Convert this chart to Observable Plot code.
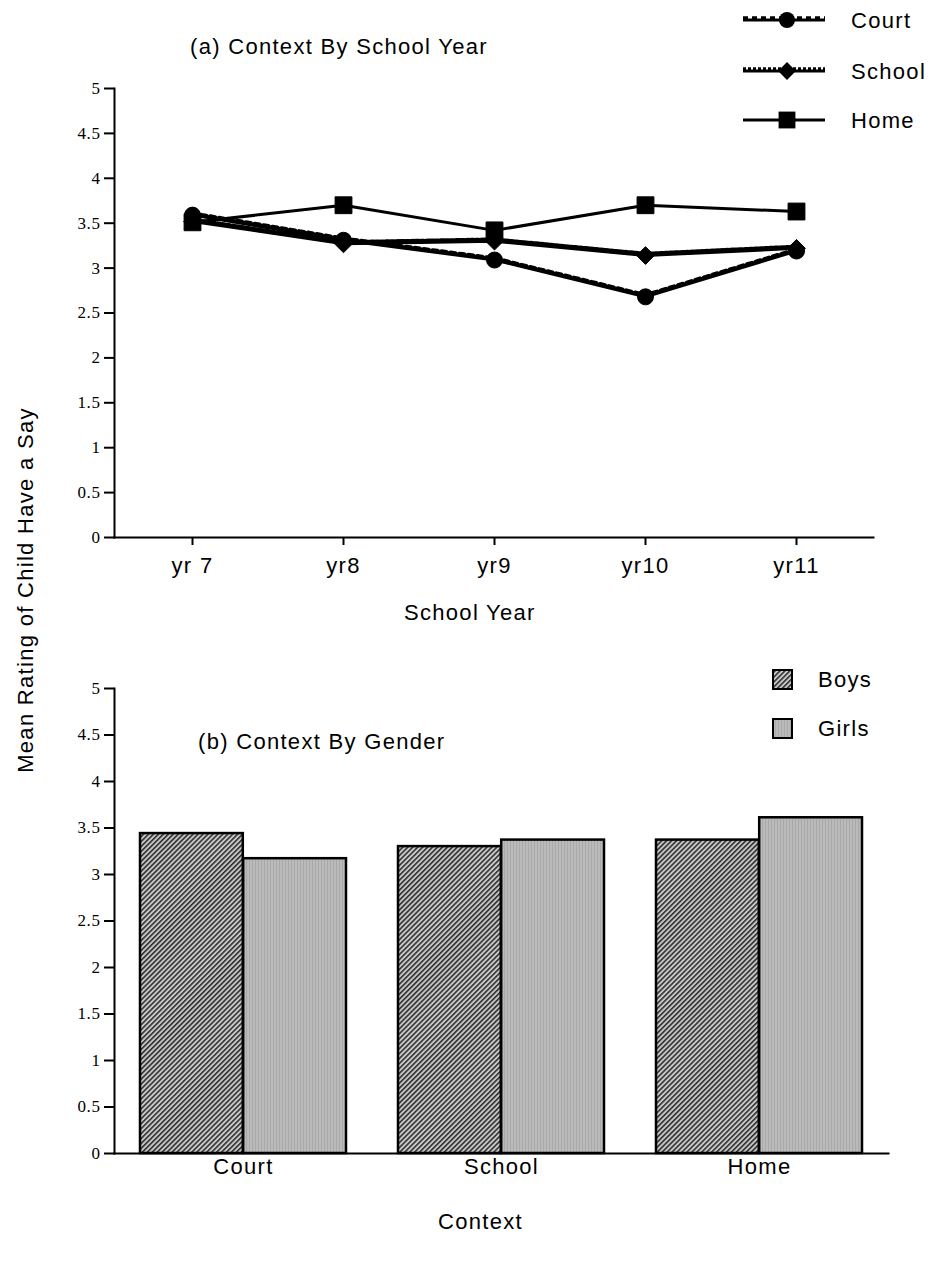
<!DOCTYPE html>
<html>
<head>
<meta charset="utf-8">
<script src="https://cdn.jsdelivr.net/npm/d3@7"></script>
<script src="https://cdn.jsdelivr.net/npm/@observablehq/plot@0.6"></script>
<style>
  body { margin: 0; background: #fff; }
  #wrap { position: relative; width: 930px; height: 1268px; font-family: "Liberation Sans", Arial, sans-serif; color: #000; }
  .abs { position: absolute; white-space: nowrap; }
  .ttl { font-size: 22px; letter-spacing: 1.3px; }
  #wrap svg { position: absolute; left: 0; }
  #wrap svg text { letter-spacing: 1.3px; }
  #wrap svg g[aria-label="y-axis tick label"] text { letter-spacing: 0.6px; }
</style>
</head>
<body>
<div id="wrap"></div>
<script>
// Panel (a): mean rating by school year, one series per context
const years = ["yr 7", "yr8", "yr9", "yr10", "yr11"];
const courtByYear  = [3.59, 3.31, 3.09, 2.68, 3.19];
const schoolByYear = [3.52, 3.27, 3.30, 3.14, 3.22];
const homeByYear   = [3.51, 3.70, 3.42, 3.70, 3.63];

// Panel (b): mean rating by context, split by gender
const contexts  = ["Court", "School", "Home"];
const genders   = ["Boys", "Girls"];
const boysMean  = [3.44, 3.30, 3.37];
const girlsMean = [3.17, 3.37, 3.61];

const yTicks = [0, 0.5, 1, 1.5, 2, 2.5, 3, 3.5, 4, 4.5, 5];

const wrap = document.getElementById("wrap");
const sans = "Liberation Sans, Arial, sans-serif";

const series = [
  {name: "Court",  values: courtByYear,  symbol: "circle",   r: 8,   dash: "5,4"},
  {name: "School", values: schoolByYear, symbol: "diamond2", r: 8,   dash: "3,2"},
  {name: "Home",   values: homeByYear,   symbol: "square",   r: 9.5, dash: null}
];
const rowsA = series.flatMap(s => years.map((yr, i) => ({series: s.name, year: yr, value: s.values[i]})));

const tickFont = {fontFamily: "Liberation Serif, serif", fontSize: 17};

const lineMarks = series.flatMap(s => {
  const rows = rowsA.filter(d => d.series === s.name);
  const ms = [Plot.line(rows, {x: "year", y: "value", stroke: "black", strokeWidth: 3})];
  if (s.dash) ms.push(Plot.line(rows, {x: "year", y: "value", stroke: "black", strokeWidth: 4.5, strokeDasharray: s.dash, dy: -1.5}));
  ms.push(Plot.dot(rows, {x: "year", y: "value", symbol: s.symbol, r: s.r, fill: "black", stroke: "black", strokeWidth: 1}));
  return ms;
});

const chartA = Plot.plot({
  width: 930, height: 640,
  marginLeft: 114, marginRight: 57, marginTop: 88, marginBottom: 103,
  style: {background: "transparent", overflow: "visible"},
  x: {type: "point", domain: years, padding: 0.5, label: null},
  y: {domain: [0, 5], label: null},
  marks: [
    Plot.axisY(yTicks, {tickSize: 10, tickPadding: 4, strokeWidth: 2, tickFormat: d => String(d), label: null, ...tickFont}),
    Plot.axisX({tickSize: 8, tickPadding: 12, strokeWidth: 2, fontSize: 22, fontFamily: sans, label: null}),
    Plot.frame({anchor: "left", strokeWidth: 2}),
    Plot.frame({anchor: "bottom", strokeWidth: 2}),
    ...lineMarks
  ]
});
chartA.style.top = "0px";
wrap.appendChild(chartA);

// Panel (b): grouped bars, each band split into a Boys half and a Girls half
const rowsB = contexts.flatMap((c, i) => [
  {context: c, gender: "Boys", value: boysMean[i]},
  {context: c, gender: "Girls", value: girlsMean[i]}
]);
const xB = {type: "band", domain: contexts, paddingInner: 0.2, paddingOuter: 0.1};
const half = Plot.scale({x: {...xB, range: [114, 930 - 42]}}).bandwidth / 2;

const chartB = Plot.plot({
  width: 930, height: 628,
  marginLeft: 114, marginRight: 42, marginTop: 48, marginBottom: 115,
  style: {background: "transparent", overflow: "visible"},
  x: {...xB, label: null},
  y: {domain: [0, 5], label: null},
  marks: [
    Plot.axisY(yTicks, {tickSize: 10, tickPadding: 4, strokeWidth: 2, tickFormat: d => String(d), label: null, ...tickFont}),
    Plot.axisX({tickSize: 0, tickPadding: 5, fontSize: 22, fontFamily: sans, label: null}),
    Plot.barY(rowsB.filter(d => d.gender === "Boys"), {x: "context", y: "value", fill: "url(#boysFill)", stroke: "black", strokeWidth: 2.5, insetRight: half}),
    Plot.barY(rowsB.filter(d => d.gender === "Girls"), {x: "context", y: "value", fill: "url(#girlsFill)", stroke: "black", strokeWidth: 2.5, insetLeft: half}),
    Plot.frame({anchor: "left", strokeWidth: 2}),
    Plot.frame({anchor: "bottom", strokeWidth: 2})
  ]
});
chartB.style.top = "640px";
wrap.appendChild(chartB);

// Hatched fills shared by the bars and the legend swatches
function addPatterns(svg) {
  const defs = d3.select(svg).insert("defs", ":first-child");
  const b = defs.append("pattern").attr("id", "boysFill").attr("patternUnits", "userSpaceOnUse")
    .attr("width", 3.5).attr("height", 3.5).attr("patternTransform", "rotate(45)");
  b.append("rect").attr("width", 3.5).attr("height", 3.5).attr("fill", "#c8c8c8");
  b.append("rect").attr("width", 1.6).attr("height", 3.5).attr("fill", "#303030");
  const g = defs.append("pattern").attr("id", "girlsFill").attr("patternUnits", "userSpaceOnUse")
    .attr("width", 3).attr("height", 3);
  g.append("rect").attr("width", 3).attr("height", 3).attr("fill", "#bababa");
  g.append("rect").attr("width", 1).attr("height", 3).attr("fill", "#aaaaaa");
}
addPatterns(chartB);

// Text labels
function label(text, left, top, extra = "") {
  const d = document.createElement("div");
  d.className = "abs ttl";
  d.textContent = text;
  d.style.cssText += `left:${left}px;top:${top}px;${extra}`;
  wrap.appendChild(d);
  return d;
}
label("(a) Context By School Year", 190, 34);
label("School Year", 404, 600);
label("(b) Context By Gender", 198, 729);
label("Context", 438, 1209);
label("Mean Rating of Child Have a Say", 26, 590, "transform:translate(-50%,-50%) rotate(-90deg);");

// Legend for panel (a)
const legA = d3.create("svg").attr("width", 200).attr("height", 140).style("position", "absolute").style("left", "730px").style("top", "0px");
series.forEach((s, i) => {
  const y = [20, 71, 120][i];
  const g = legA.append("g");
  g.append("line").attr("x1", 13).attr("x2", 95).attr("y1", y).attr("y2", y).attr("stroke", "black").attr("stroke-width", 3);
  if (s.dash) g.append("line").attr("x1", 13).attr("x2", 95).attr("y1", y - 1.5).attr("y2", y - 1.5).attr("stroke", "black").attr("stroke-width", 4.5).attr("stroke-dasharray", s.dash);
  const sym = {circle: d3.symbolCircle, diamond2: d3.symbolDiamond2, square: d3.symbolSquare}[s.symbol];
  g.append("path").attr("transform", `translate(57,${y})`).attr("d", d3.symbol(sym, Math.PI * s.r * s.r)()).attr("fill", "black");
  g.append("text").attr("x", 121).attr("y", y + 8).attr("font-size", 22).attr("font-family", sans).text(s.name);
});
wrap.appendChild(legA.node());

// Legend for panel (b)
const legB = d3.create("svg").attr("width", 170).attr("height", 100).style("position", "absolute").style("left", "760px").style("top", "660px");
genders.forEach((gname, i) => {
  const y = [19, 68][i];
  legB.append("rect").attr("x", 13).attr("y", y - 9).attr("width", 19).attr("height", 19)
    .attr("fill", gname === "Boys" ? "url(#boysFill)" : "url(#girlsFill)").attr("stroke", "black").attr("stroke-width", 2);
  legB.append("text").attr("x", 58).attr("y", y + 8).attr("font-size", 22).attr("font-family", sans).text(gname);
});
wrap.appendChild(legB.node());
</script>
</body>
</html>
